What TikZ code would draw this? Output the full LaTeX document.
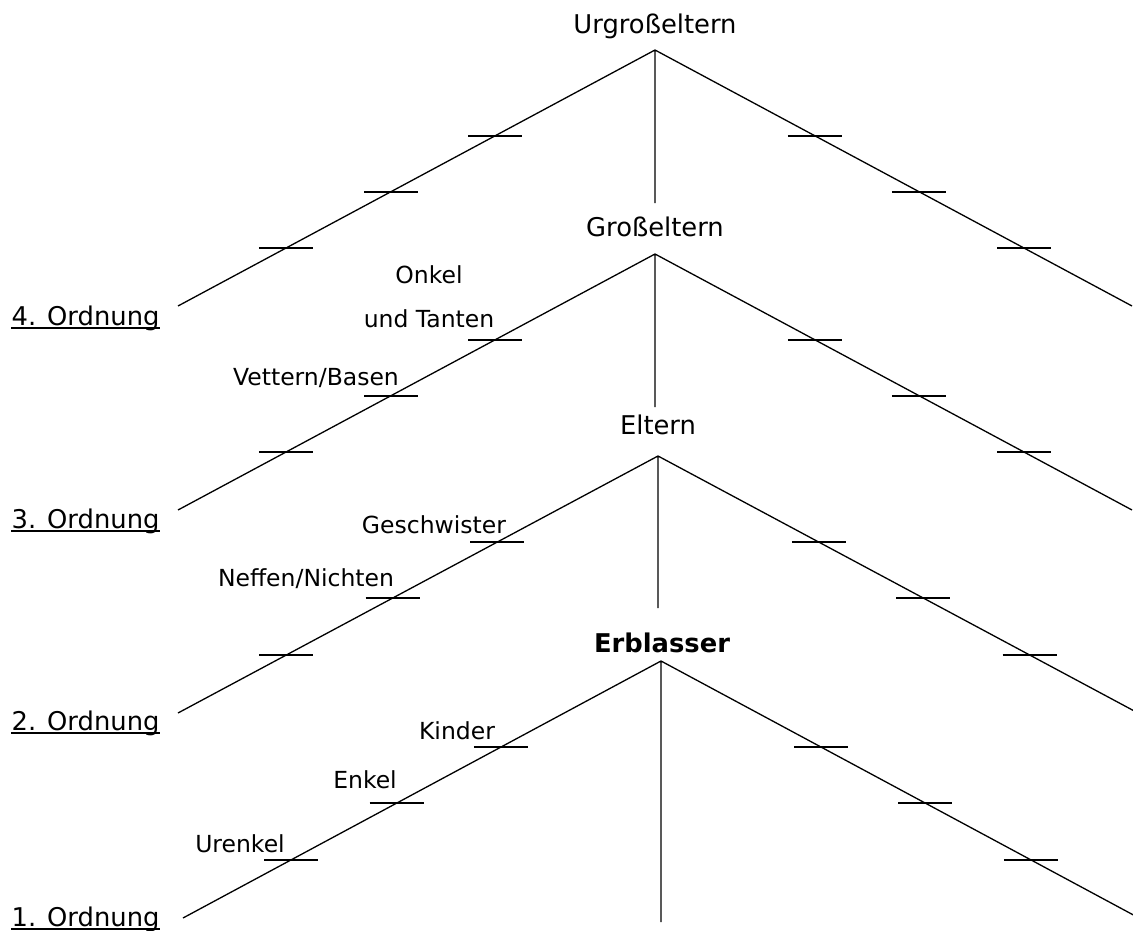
\documentclass[tikz,border=0pt]{standalone}
\usepackage{fontspec}
\setmainfont{DejaVu Sans}
\usetikzlibrary{positioning,calc}

\begin{document}
\begin{tikzpicture}[x=1pt, y=-1pt, line width=1.3pt,
  gen/.style={inner sep=0pt, text depth=0pt, font=\fontsize{25.8}{30}\selectfont},
  rel/.style={inner sep=0pt, anchor=base, font=\fontsize{23.5}{28}\selectfont},
  ord/.style={inner sep=0pt, anchor=base west, font=\fontsize{25.8}{30}\selectfont},
  tk/.style={line width=2pt}]
  \useasboundingbox (0,0) rectangle (1133,931);
  % apex, foot of the stem, left and right leg of each generation
  \coordinate (a4) at (655,50);  \coordinate (s4) at (655,203);
  \coordinate (l4) at (178,306); \coordinate (r4) at (1132,306);
  \coordinate (a3) at (655,254); \coordinate (s3) at (655,407);
  \coordinate (l3) at (178,510); \coordinate (r3) at (1132,510);
  \coordinate (a2) at (658,456); \coordinate (s2) at (658,608);
  \coordinate (l2) at (178,713); \coordinate (r2) at (1138,713);
  \coordinate (a1) at (661,661); \coordinate (s1) at (661,922);
  \coordinate (l1) at (183,918); \coordinate (r1) at (1139,918);
  \node[gen,above=16pt of a4] (g4) {Urgroßeltern};
  \node[gen,above=17pt of a3] (g3) {Großeltern};
  \node[gen,above=21pt of a2] (g2) {Eltern};
  \node[gen,above=8pt of a1,xshift=1pt,font=\fontsize{25.8}{30}\selectfont\bfseries] (g1) {Erblasser};
  \foreach \t in {1,...,4}{
    \draw (l\t) -- (a\t) -- (r\t) (a\t) -- (s\t);
    \foreach \f in {0.335,0.553,0.774}{
      \draw[tk] ($(a\t)!\f!(l\t)$) +(-27,0) -- +(27,0);
      \draw[tk] ($(a\t)!\f!(r\t)$) +(-27,0) -- +(27,0);
    }
  }
  % relatives
  \node[rel] (onk) at (429,283) {Onkel};
  \node[rel] (tan) at (429,327) {und Tanten};
  \node[rel] (vet) at (316,385) {Vettern/Basen};
  \node[rel] (ges) at (434,533) {Geschwister};
  \node[rel] (nef) at (306,586) {Neffen/Nichten};
  \node[rel] (kin) at (457,739) {Kinder};
  \node[rel] (enk) at (365,788) {Enkel};
  \node[rel] (ure) at (240,852) {Urenkel};
  % orders, underlined
  \node[ord] (o4) at (11,325) {4. Ordnung};
  \node[ord] (o3) at (11,528) {3. Ordnung};
  \node[ord] (o2) at (11,730) {2. Ordnung};
  \node[ord] (o1) at (11,926) {1. Ordnung};
  \foreach \o in {1,...,4}
    \draw[tk] ([yshift=-3pt]o\o.base west) -- ([yshift=-3pt]o\o.base east);
\end{tikzpicture}
\end{document}
